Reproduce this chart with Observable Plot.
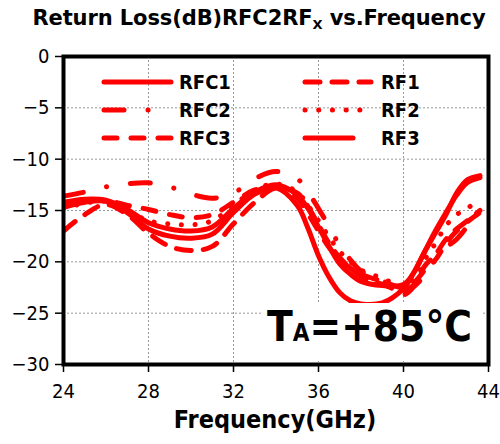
<!DOCTYPE html>
<html><head><meta charset="utf-8">
<script src="https://cdn.jsdelivr.net/npm/d3@7"></script>
<script src="https://cdn.jsdelivr.net/npm/@observablehq/plot@0.6"></script>
<style>
body{margin:0;background:#fff;}
#wrap{position:relative;width:500px;height:444px;overflow:hidden;font-family:"DejaVu Sans Condensed","DejaVu Sans",sans-serif;}
#title{position:absolute;left:0;top:6px;width:518px;text-align:center;font-weight:bold;font-size:21px;white-space:nowrap;font-family:"DejaVu Sans",sans-serif;letter-spacing:-0.1px;line-height:1.2;}
#title sub{font-size:13px;vertical-align:-4px;}
#xlabel{position:absolute;left:0;top:406px;width:550px;text-align:center;font-weight:bold;font-size:25px;line-height:1.1;}
#legend{position:absolute;left:0;top:0;}
#anno{position:absolute;left:262px;top:303px;width:221px;height:58px;background:#fff;}
#anno span.t{position:absolute;left:5px;top:-1px;font-weight:bold;font-size:42px;white-space:nowrap;}
#anno span.t small{font-size:24px;}
</style></head>
<body>
<div id="wrap">
  <div id="chart"></div>
  <div id="title">Return Loss(dB)RFC2RF<sub>X</sub> vs.Frequency</div>
  <div id="xlabel">Frequency(GHz)</div>
  <div id="anno"><span class="t">T<small>A</small>=+85°C</span></div>
</div>
<script>
// ---- data ----
const freq = [24,25,26,27,28,29,30,31,32,33,34,35,35.5,36,36.5,37,37.5,38,39,40,40.5,41,41.5,42,42.5,43,43.6];
const RFC1 = [-14.7,-14.2,-14.1,-15.2,-16.8,-17.5,-17.7,-17.3,-15.2,-13.4,-12.8,-14.5,-16.7,-19.4,-21.5,-23.0,-23.8,-24.1,-24.0,-22.6,-21.0,-19.0,-17.2,-15.4,-13.3,-12.0,-11.6];
const RFC2 = [-13.6,-13.2,-12.7,-12.4,-12.3,-12.7,-13.4,-13.8,-13.3,-11.9,-11.2,-11.9,-13.2,-14.8,-16.6,-18.4,-19.8,-20.9,-21.8,-23.2,-22.4,-21.3,-19.8,-18.6,-17.8,-16.6,-15.5];
const RFC3 = [-14.4,-14.0,-14.0,-14.5,-14.9,-15.4,-15.7,-15.4,-14.2,-13.0,-12.7,-13.8,-15.3,-17.0,-18.6,-19.8,-20.6,-21.2,-21.9,-22.5,-22.0,-20.8,-19.8,-18.2,-17.0,-16.1,-15.2];
const RF1  = [-17.0,-15.4,-14.4,-15.4,-17.2,-18.5,-18.9,-18.5,-16.3,-14.2,-12.8,-13.3,-14.6,-16.4,-18.2,-19.6,-20.6,-21.4,-22.2,-22.8,-22.2,-20.4,-19.3,-17.8,-16.8,-16.0,-15.0];
const RF2  = [-14.8,-14.3,-14.1,-15.0,-16.0,-16.3,-16.4,-16.0,-14.5,-13.0,-12.4,-13.2,-14.5,-16.0,-17.6,-19.0,-20.0,-20.8,-21.6,-22.4,-21.8,-19.8,-18.2,-16.5,-15.4,-14.8,-13.8];
const RF3  = [-14.2,-13.9,-14.0,-14.9,-16.2,-16.8,-17.0,-16.6,-14.8,-13.2,-12.5,-13.5,-14.8,-16.6,-18.5,-20.2,-21.2,-21.9,-22.3,-22.2,-21.0,-19.0,-17.0,-15.2,-13.5,-12.3,-11.8];
const seriesNames = ["RFC1","RFC2","RFC3","RF1","RF2","RF3"];
const seriesValues = [RFC1,RFC2,RFC3,RF1,RF2,RF3];
const xTicks = [24,28,32,36,40,44];
const yTicks = [0,-5,-10,-15,-20,-25,-30];

// ---- styles ----
const dash = {RFC1:null, RFC2:"20,24,0.1,24", RFC3:"13,14", RF1:"15,12", RF2:"0.1,13.6", RF3:null};
const RED = "#ff0000";

const rows = seriesNames.flatMap((s,i)=>freq.map((f,j)=>({series:s, f, v:seriesValues[i][j]})));

const lineMarks = seriesNames.map(s=>Plot.line(rows.filter(d=>d.series===s),{
  x:"f", y:"v", stroke:RED, strokeWidth:5, strokeLinecap:"round", strokeLinejoin:"round",
  strokeDasharray: dash[s] ?? undefined, curve:"catmull-rom", clip:true
}));

const chart = Plot.plot({
  width:500, height:444,
  marginLeft:63, marginRight:12, marginTop:56, marginBottom:80,
  style:{fontFamily:'"DejaVu Sans Condensed","DejaVu Sans",sans-serif', fontSize:"20px", color:"#000", background:"#fff"},
  x:{domain:[24,44], ticks:xTicks, label:null},
  y:{domain:[-30,0], ticks:yTicks, label:null},
  marks:[
    Plot.gridX(xTicks.slice(1,-1),{stroke:"#999", strokeOpacity:1, strokeDasharray:"2,2"}),
    Plot.gridY(yTicks.slice(1,-1),{stroke:"#999", strokeOpacity:1, strokeDasharray:"2,2"}),
    ...lineMarks,
    Plot.axisX(xTicks,{tickSize:8, tickPadding:11, fontSize:20, stroke:"#000", strokeWidth:1.5, label:null}),
    Plot.axisY(yTicks,{tickSize:8, tickPadding:6, fontSize:20, stroke:"#000", strokeWidth:1.5, label:null}),
    Plot.frame({stroke:"#000", strokeWidth:4})
  ]
});
document.getElementById("chart").appendChild(chart);

// ---- legend (inside plot area, transparent) ----
const legendLayout = [
  {name:"RFC1", x0:104, x1:171, y:82, lx:179},
  {name:"RFC2", x0:104, x1:154, y:110, lx:179},
  {name:"RFC3", x0:104, x1:171, y:138, lx:179},
  {name:"RF1",  x0:305, x1:371, y:82, lx:381},
  {name:"RF2",  x0:305, x1:362, y:110, lx:381},
  {name:"RF3",  x0:305, x1:353, y:138, lx:381}
];
const ns="http://www.w3.org/2000/svg";
const lg=document.createElementNS(ns,"svg");
lg.setAttribute("width","500");lg.setAttribute("height","444");
lg.setAttribute("id","legend");
legendLayout.forEach(e=>{
  const l=document.createElementNS(ns,"line");
  l.setAttribute("x1",e.x0);l.setAttribute("x2",e.x1);
  l.setAttribute("y1",e.y);l.setAttribute("y2",e.y);
  l.setAttribute("stroke",RED);l.setAttribute("stroke-width","5");
  l.setAttribute("stroke-linecap","round");
  if(dash[e.name]) l.setAttribute("stroke-dasharray",dash[e.name]);
  lg.appendChild(l);
  const t=document.createElementNS(ns,"text");
  t.setAttribute("x",e.lx);t.setAttribute("y",e.y+7);
  t.setAttribute("font-weight","bold");t.setAttribute("font-size","20");
  t.setAttribute("font-family",'"DejaVu Sans Condensed","DejaVu Sans",sans-serif');
  t.textContent=e.name;
  lg.appendChild(t);
});
document.getElementById("wrap").insertBefore(lg, document.getElementById("title"));
</script>
</body></html>
